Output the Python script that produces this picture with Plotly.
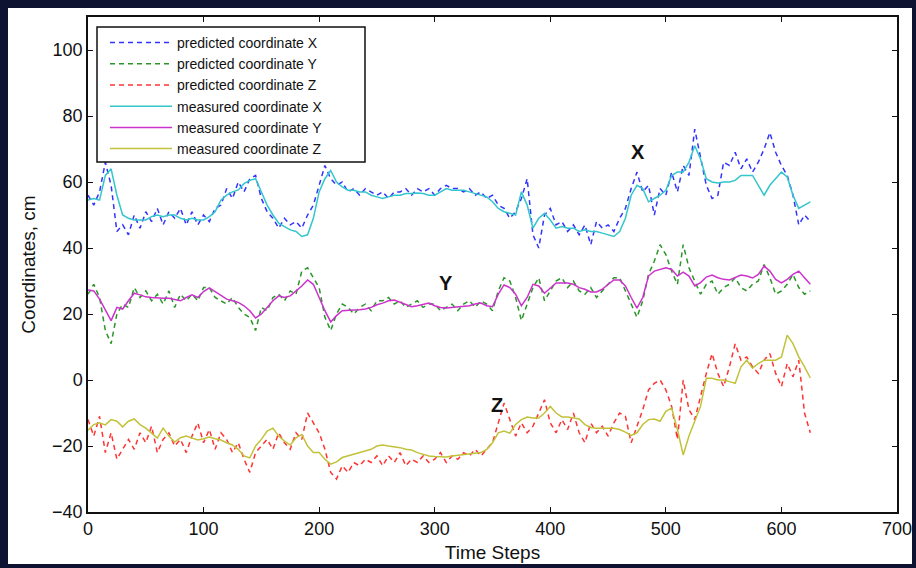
import plotly.graph_objects as go

time_steps = list(range(0, 630, 5))

measured_x = [54.5, 55, 54.5, 62, 64, 56, 50, 49, 48.5, 48.5,
              48.5, 49.5, 50, 49.5, 50, 50, 49, 48.5, 49, 48.5,
              48.5, 49.5, 51, 54.5, 56, 57, 57.6, 59.5, 60.5, 61,
              57, 53, 50, 47.5, 46.5, 45.5, 45, 43.5, 44, 49,
              57, 61, 63.5, 60, 58.5, 57.5, 57.5, 57, 57, 56,
              55.5, 55, 55.5, 56, 56, 56.5, 56.5, 56.7, 56.5, 56,
              56, 57, 58, 57.5, 57.6, 57.5, 57, 56.5, 56, 55.5,
              54, 52, 51, 50.5, 50, 57, 53, 46, 49, 50.5,
              48.5, 46, 46.5, 46, 46, 45, 45.5, 45, 45, 44.5,
              44, 43.5, 45, 49, 56, 59, 58, 54, 55, 56,
              57.5, 62, 63, 63, 66, 71, 67, 61, 60, 59.7,
              60, 60, 60.5, 62, 62, 62, 59, 56, 59, 61,
              63, 61.5, 56, 52, 53, 54]

predicted_x = [56, 53, 57, 66, 59, 45, 47, 44, 50, 46,
               51, 48, 52, 47, 51, 49, 52, 47, 51, 47,
               50, 48, 52, 53, 58, 55, 60, 57, 61, 62,
               55, 51, 49, 46, 49, 47, 48, 46, 50, 53,
               59, 65, 61, 59, 60, 57, 58, 56, 58, 57,
               56, 57, 55, 57, 57, 58, 56, 58, 57, 58,
               56, 58, 59, 58, 58, 57, 58, 56, 57, 55,
               56, 53, 52, 49, 51, 55, 61, 44, 40, 50,
               52, 47, 48, 45, 47, 44, 47, 41, 48, 46,
               47, 45, 49, 52, 58, 63, 57, 59, 50, 58,
               56, 63, 57, 65, 62, 76, 68, 59, 55, 56,
               66, 65, 69, 64, 67, 63, 66, 70, 75, 69,
               65, 62, 56, 47, 50, 48]

measured_y = [27.3, 27, 24.5, 21, 18, 22, 21.5, 24, 26.3, 25.8,
              25.2, 25, 24.8, 24.8, 24.8, 24.5, 24, 25, 25.8, 25,
              26.8, 27.9, 26.8, 25.5, 24.5, 24, 23.5, 22.5, 21, 18.8,
              20, 22, 24, 25.5, 25, 25.5, 27, 28.5, 30.3, 29,
              25, 21, 17.6, 19.5, 21, 21.2, 21.2, 21.3, 21.5, 22,
              22.8, 23.3, 24, 24.2, 23.5, 23, 22.2, 22.5, 23, 23.3,
              22.5, 22, 21.8, 22, 22.2, 22.2, 22.5, 23, 23.3, 22.5,
              22.2, 26, 28.8, 28, 26, 22.5, 25, 29, 28.5, 26.3,
              28, 29.4, 29.4, 29.4, 29, 28, 27.5, 26.7, 26.7, 27.5,
              29, 30.3, 30.3, 28.5, 25, 21.8, 25, 31.5, 33, 33.5,
              34, 33.5, 31.5, 32.7, 31.5, 28.5, 29.5, 31.2, 31.8, 31,
              30.5, 30.3, 31, 31.8, 31.5, 30.9, 32, 34.5, 33, 30.5,
              29.4, 30.5, 32, 33, 31, 29]

predicted_y = [26, 29, 25, 15, 11, 20, 23, 22, 28, 25,
               27, 24, 26, 23, 27, 22, 26, 24, 26, 24,
               28, 28, 25, 24, 23, 25, 22, 20, 19, 15,
               22, 21, 25, 26, 24, 27, 26, 33, 34, 31,
               28, 19, 15, 20, 23, 22, 20, 22, 23, 21,
               24, 24, 25, 23, 24, 22, 23, 24, 22, 23,
               23, 21, 22, 23, 21, 23, 24, 22, 24, 23,
               21, 27, 31, 30, 25, 18, 23, 28, 31, 24,
               27, 30, 31, 28, 30, 27, 26, 28, 25, 27,
               29, 31, 31, 27, 23, 19, 24, 32, 36, 41,
               38, 33, 29, 41, 34, 30, 26, 29, 30, 26,
               28, 29, 31, 28, 27, 29, 30, 35, 31, 26,
               27, 29, 32, 28, 26, 27]

measured_z = [-15.2, -13.5, -13, -13.6, -12, -12.5, -14.2, -12.5, -11.8, -13.5,
              -14.6, -16, -17.6, -14.6, -17, -18.8, -17.5, -17, -17.5, -18.2,
              -17.8, -17.3, -17.8, -18.2, -19, -19.7, -21, -23, -23.6, -20,
              -18, -15.5, -14.6, -17, -18.5, -19.7, -17.5, -16.5, -20, -22,
              -22, -24, -25.5, -24.8, -23.5, -23, -22.5, -22, -21.5, -21,
              -20, -19.7, -20, -20.2, -20.5, -21, -21.2, -22, -22.5, -23,
              -23.2, -23.3, -23.3, -23, -22.8, -22.7, -22.5, -22.2, -22, -21,
              -19, -16, -15.5, -16.1, -13.5, -12, -11.2, -11.5, -11.5, -10,
              -8, -10, -11.2, -11.2, -11.5, -11.8, -13.5, -14.4, -14.6, -14.5,
              -14.6, -14.6, -15, -15.8, -16.8, -16, -13.5, -12, -11.8, -12.5,
              -9.5, -8.5, -15, -22.7, -17, -12.5, -8, 0.5, 0.5, 0,
              0, -0.5, -1, 4, 6, 3.6, 5, 6, 6, 6,
              7, 13.6, 11, 7, 4, 0.6]

predicted_z = [-12, -17, -11, -22, -16, -24, -21, -18, -21, -16,
               -19, -14, -22, -18, -16, -20, -18, -22, -17, -13,
               -19, -15, -21, -16, -18, -22, -19, -24, -28, -22,
               -20, -18, -21, -16, -19, -21, -16, -18, -10, -13,
               -16, -21, -28, -30, -26, -28, -25, -26, -24, -25,
               -23, -26, -23, -25, -22, -26, -24, -25, -23, -25,
               -24, -22, -25, -23, -24, -22, -23, -21, -23, -21,
               -19, -13, -7, -12, -17, -13, -16, -14, -10, -6,
               -13, -16, -12, -15, -10, -16, -19, -13, -16, -14,
               -17, -13, -10, -11, -19, -14, -9, -3, -1, 0,
               -3, -8, -18, 0, -9, -12, -5, 2, 8, 2,
               -2, 4, 11, 6, 7, 4, 2, 6, 8, 2,
               -2, 5, 1, 6, -10, -16]

x_ticks = [0, 100, 200, 300, 400, 500, 600, 700]
y_ticks = [-40, -20, 0, 20, 40, 60, 80, 100]

labels = [("X", 476, 69), ("Y", 310, 29.5), ("Z", 354, -7.5)]

series = [
    ("predicted coordinate X", predicted_x, "#3333ff", "5px,4px"),
    ("predicted coordinate Y", predicted_y, "#2a962a", "5px,4px"),
    ("predicted coordinate Z", predicted_z, "#ff3333", "5px,4px"),
    ("measured coordinate X", measured_x, "#33c6cc", "solid"),
    ("measured coordinate Y", measured_y, "#cc33cc", "solid"),
    ("measured coordinate Z", measured_z, "#c2c23a", "solid"),
]

FONT = "Liberation Sans, Arial, sans-serif"

fig = go.Figure()
for name, vals, color, dash in series:
    fig.add_trace(go.Scatter(
        x=time_steps, y=vals, mode="lines", name=name,
        line=dict(color=color, width=1.5, dash=dash),
    ))

for txt, lx, ly in labels:
    fig.add_annotation(x=lx, y=ly, text="<b>%s</b>" % txt, showarrow=False,
                       font=dict(size=20, color="#111111", family=FONT))

L, R, T, B = 88, 19, 17, 56
W, H = 916, 568
pw, ph = W - L - R, H - T - B

def px_x(p):
    return (p - L) / pw

def px_y(p):
    return (H - B - p) / ph

# white panel inside the dark frame
fig.add_shape(type="rect", xref="paper", yref="paper",
              x0=px_x(8), x1=px_x(912), y0=px_y(564), y1=px_y(8),
              fillcolor="white", line=dict(width=0), layer="below")
# legend box
fig.add_shape(type="rect", xref="paper", yref="paper",
              x0=px_x(97), x1=px_x(365), y0=px_y(162), y1=px_y(27),
              fillcolor="white", line=dict(width=1.5, color="#111111"),
              layer="above")

axis_common = dict(
    showgrid=False, zeroline=False, showline=True, linecolor="#111111",
    linewidth=1.5, mirror="ticks", ticks="inside", ticklen=5,
    tickcolor="#111111", tickwidth=1, automargin=False,
    tickfont=dict(family=FONT, size=18, color="#111111"),
)

fig.update_layout(
    width=W, height=H,
    margin=dict(l=L, r=R, t=T, b=B),
    paper_bgcolor="#0d1330",
    plot_bgcolor="white",
    font=dict(family=FONT, color="#111111"),
    showlegend=True,
    legend=dict(
        x=px_x(105), y=px_y(27), xanchor="left", yanchor="top",
        bgcolor="rgba(0,0,0,0)", borderwidth=0,
        font=dict(family=FONT, size=14, color="#111111"),
        itemwidth=62, tracegroupgap=0,
    ),
    xaxis=dict(range=[0, 700], tickvals=x_ticks,
               title=dict(text="Time Steps", standoff=7,
                          font=dict(family=FONT, size=19, color="#111111")),
               **axis_common),
    yaxis=dict(range=[-40, 110], tickvals=y_ticks,
               title=dict(text="Coordinates, cm", standoff=11,
                          font=dict(family=FONT, size=19, color="#111111")),
               **axis_common),
)

fig.write_html("out.html", config={"displayModeBar": False},
               post_script="document.body.style.margin='0';document.body.style.padding='0';")
